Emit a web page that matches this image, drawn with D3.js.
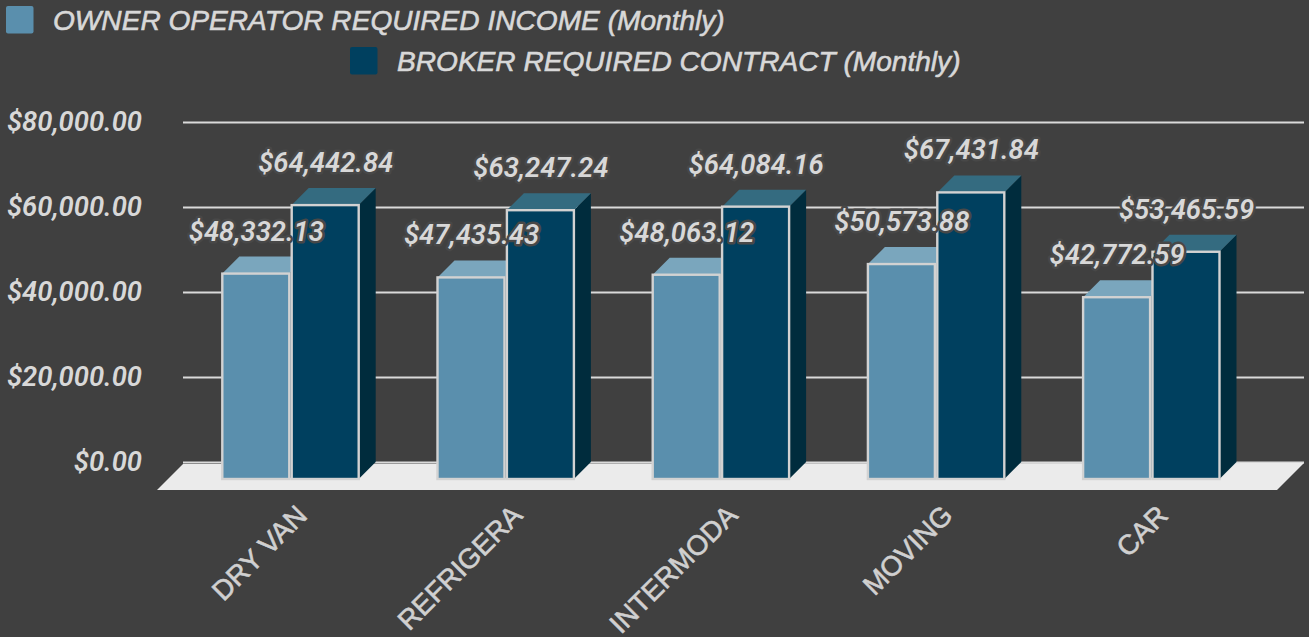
<!DOCTYPE html>
<html><head><meta charset="utf-8">
<script src="https://cdn.jsdelivr.net/npm/d3@7/dist/d3.min.js"></script>
<style>
html,body{margin:0;padding:0;background:#404040;overflow:hidden}
svg{display:block}
.val{font:italic 600 27.4px Roboto,sans-serif;fill:#d8d8d8}
.halo{paint-order:stroke;stroke:#484848;stroke-width:5px;stroke-linejoin:round}
.leg{font:italic 28.1px "Liberation Sans",Arial,sans-serif;fill:#d8d8d8;stroke:#d8d8d8;stroke-width:.6px}
.cat{font:27.8px "Liberation Sans",Arial,sans-serif;fill:#d0d0d0;stroke:#d0d0d0;stroke-width:.6px}
</style></head><body><div id="c"></div>
<script>
const categories = ["DRY VAN","REFRIGERA","INTERMODA","MOVING","CAR"];
const ownerValues = [48332.13,47435.43,48063.12,50573.88,42772.59];
const brokerValues = [64442.84,63247.24,64084.16,67431.84,53465.59];
const seriesNames = ["OWNER OPERATOR REQUIRED INCOME (Monthly)","BROKER REQUIRED CONTRACT (Monthly)"];
const yTicks = [0,20000,40000,60000,80000];

const W=1309,H=637,depth=17;
const bg="#404040",lineCol="#dadada";
const svg=d3.select("#c").append("svg").attr("width",W).attr("height",H);
svg.append("rect").attr("width",W).attr("height",H).attr("fill",bg);

const y=d3.scaleLinear().domain([0,80000]).range([462,122]);
const x=d3.scaleBand().domain(categories).range([183,1259]).padding(0);
const sx=d3.scaleBand().domain([0,1]).range([39.3,175.7]).paddingInner(0.0346);
const fmt=d3.format("$,.2f");

// legend
const leg=[{x:6,y:6,tx:53,ty:29.5,c:"#5a8fad"},{x:350,y:47,tx:397,ty:70.5,c:"#00405f"}];
seriesNames.forEach((n,i)=>{
  const l=leg[i];
  svg.append("rect").attr("x",l.x).attr("y",l.y).attr("width",27.5).attr("height",27.5).attr("rx",2).attr("fill",l.c);
  svg.append("text").attr("class","leg").attr("x",l.tx).attr("y",l.ty).text(n);
});

// y axis + gridlines
const yAxis=d3.axisLeft(y).tickValues(yTicks).tickFormat(fmt).tickSize(-1121).tickPadding(41);
const gy=svg.append("g").attr("transform","translate(183,0)").call(yAxis);
gy.select(".domain").remove();
gy.selectAll(".tick line").attr("stroke",lineCol).attr("stroke-width",2);
gy.selectAll(".tick text").attr("class","val").attr("fill",null).attr("dy","0.3em").style("font-family","Roboto,sans-serif");

// floor
const y0=y(0);
svg.append("polygon").attr("points",[[183,y0+2],[1304,y0+1],[1277,y0+28],[157,y0+28]].join(" ")).attr("fill","#ebebeb");

// bars
const cols=[{f:"#5a8fad",t:"#7aa6bd",s:"#3f6479"},{f:"#00405f",t:"#346b80",s:"#002c3d"}];
const series=[ownerValues,brokerValues];
const groups=svg.selectAll("g.grp").data(categories).join("g").attr("class","grp");
groups.each(function(cat,ci){
  const g=d3.select(this);
  series.forEach((vals,si)=>{
    const v=vals[ci],x0=x(cat)+sx(si),w=sx.bandwidth(),top=y(v)+depth,bot=y0+depth,c=cols[si];
    g.append("polygon").attr("points",[[x0+w,top],[x0+w+depth,top-depth],[x0+w+depth,bot-depth],[x0+w,bot]].join(" ")).attr("fill",c.s);
    g.append("polygon").attr("points",[[x0,top],[x0+depth,top-depth],[x0+w+depth,top-depth],[x0+w,top]].join(" ")).attr("fill",c.t);
    g.append("rect").attr("x",x0).attr("y",top).attr("width",w).attr("height",bot-top).attr("fill",c.f).attr("stroke","#d2d2d2").attr("stroke-width",2.4);
  });
});

// value labels
series.forEach((vals,si)=>{
  svg.selectAll("text.s"+si).data(vals).join("text")
    .attr("class","val halo s"+si)
    .attr("text-anchor","middle")
    .attr("x",(d,i)=>x(categories[i])+sx(si)+sx.bandwidth()/2+0.5)
    .attr("y",d=>y(d)-16)
    .text(d=>fmt(d));
});

// category axis
const xAxis=d3.axisBottom(x).tickSize(0).tickPadding(0);
const gx=svg.append("g").attr("transform","translate(0,490)").call(xAxis);
gx.select(".domain").remove();
gx.selectAll(".tick text").attr("class","cat").attr("fill",null)
  .attr("text-anchor","end").attr("dy",null).attr("y",0)
  .attr("transform","translate(18,27) rotate(-45)")
  .style("font-family",'"Liberation Sans",Arial,sans-serif');
</script></body></html>
